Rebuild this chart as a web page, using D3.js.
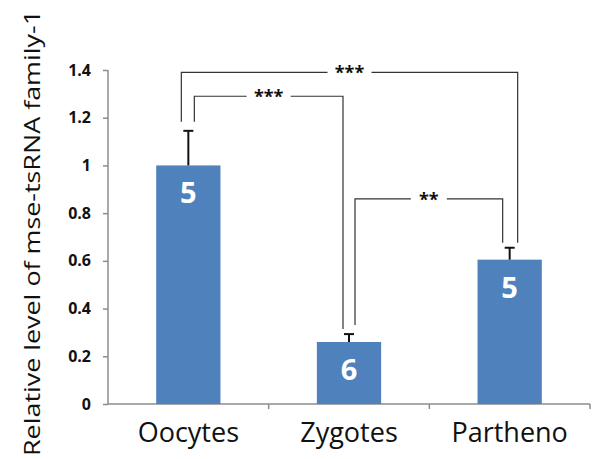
<html>
<head>
  <meta charset="utf-8" />
  <script src="https://cdn.jsdelivr.net/npm/d3@7"></script>
  <style>
    body { margin: 0; background: #fff; }
    text { font-family: "Open Sans", sans-serif; }
  </style>
</head>
<body>
<div id="chart"></div>
<script>
// data
var categories = ["Oocytes", "Zygotes", "Partheno"];
var means = [1.0, 0.26, 0.605];
var errors = [0.145, 0.033, 0.05];
var counts = ["5", "6", "5"];
var yTicks = [0, 0.2, 0.4, 0.6, 0.8, 1, 1.2, 1.4];
// significance brackets: [from, to, label, level]
var sigFrom = [0, 0, 1];
var sigTo = [2, 1, 2];
var sigLabels = ["***", "***", "**"];
var sigLevel = [1.39, 1.29, 0.86];

var W = 595, H = 459;
var margin = {top: 70, right: 5, bottom: 55, left: 108};

var svg = d3.select("#chart").append("svg")
    .attr("width", W).attr("height", H);
var g = svg.append("g")
    .attr("transform", "translate(" + margin.left + "," + margin.top + ")");

var x = d3.scaleBand().domain(categories).range([0, 482]).paddingInner(0.6).paddingOuter(0.3);
var y = d3.scaleLinear().domain([0, 1.4]).range([334, 0]);

// y axis
var yAxis = g.append("g")
  .call(d3.axisLeft(y).tickValues(yTicks).tickSize(5).tickPadding(12)
    .tickFormat(function(d){ return d === 0 ? "0" : d3.format("~g")(d); }));
yAxis.select(".domain").attr("stroke", "#8c8c8c").attr("stroke-width", 1.5).attr("d", "M0,0V334");
yAxis.selectAll(".tick line").attr("stroke", "#8c8c8c").attr("stroke-width", 1.5);
yAxis.selectAll(".tick text").attr("font-size", 16).attr("font-weight", "bold").attr("fill", "#111");

// x axis line with boundary ticks
var xa = g.append("g").attr("transform", "translate(0,334)");
xa.append("line").attr("x1", 0).attr("x2", 482).attr("stroke", "#8c8c8c").attr("stroke-width", 1.5);
[1, 2, 3].forEach(function(i){
  var bx = x.step() * i;
  xa.append("line").attr("x1", bx).attr("x2", bx).attr("y1", 0).attr("y2", 5)
    .attr("stroke", "#8c8c8c").attr("stroke-width", 1.5);
});
categories.forEach(function(c){
  xa.append("text").attr("x", x(c) + x.bandwidth()/2).attr("y", 38)
    .attr("text-anchor", "middle").attr("font-size", 27).attr("fill", "#111").text(c);
});

// bars
g.selectAll("rect.bar").data(means).enter().append("rect")
  .attr("x", function(d, i){ return x(categories[i]); })
  .attr("y", function(d){ return y(d); })
  .attr("width", x.bandwidth())
  .attr("height", function(d){ return y(0) - y(d); })
  .attr("fill", "#4f81bd");

// error bars
means.forEach(function(m, i){
  var cx = x(categories[i]) + x.bandwidth()/2;
  g.append("line").attr("x1", cx).attr("x2", cx).attr("y1", y(m)).attr("y2", y(m + errors[i]))
    .attr("stroke", "#111").attr("stroke-width", 2);
  g.append("line").attr("x1", cx - 5).attr("x2", cx + 5).attr("y1", y(m + errors[i])).attr("y2", y(m + errors[i]))
    .attr("stroke", "#111").attr("stroke-width", 2);
  g.append("text").attr("x", cx).attr("y", y(m) + 38)
    .attr("text-anchor", "middle").attr("font-size", 29).attr("font-weight", "bold")
    .attr("fill", "#fff").text(counts[i]);
});

// brackets
var legX = [[-7, 0], [6, -6], [6, -7]];
sigLabels.forEach(function(lab, k){
  var a = sigFrom[k], b = sigTo[k];
  var x1 = x(categories[a]) + x.bandwidth()/2 + legX[k][0];
  var x2 = x(categories[b]) + x.bandwidth()/2 + legX[k][1] + (k === 0 ? 8 : 0);
  var ly = y(sigLevel[k]);
  var y1 = y(means[a] + errors[a]) - 9;
  var y2 = y(means[b] + errors[b]) - 5;
  var mid = (x1 + x2) / 2;
  var gap = lab.length === 3 ? 22 : 18;
  g.append("path")
    .attr("d", "M" + x1 + "," + y1 + "V" + ly + "H" + (mid - gap) + "M" + (mid + gap) + "," + ly + "H" + x2 + "V" + y2)
    .attr("fill", "none").attr("stroke", "#333").attr("stroke-width", 1.2);
  g.append("text").attr("x", mid).attr("y", ly + 7).attr("text-anchor", "middle")
    .attr("font-size", 18).attr("font-weight", "bold").attr("fill", "#111").text(lab);
});

// y label
svg.append("text")
  .attr("transform", "translate(40," + 233 + ") rotate(-90)")
  .attr("text-anchor", "middle").attr("font-size", 22).attr("fill", "#111")
  .attr("textLength", 446).attr("lengthAdjust", "spacingAndGlyphs")
  .text("Relative level of mse-tsRNA family-1");
</script>
</body>
</html>
